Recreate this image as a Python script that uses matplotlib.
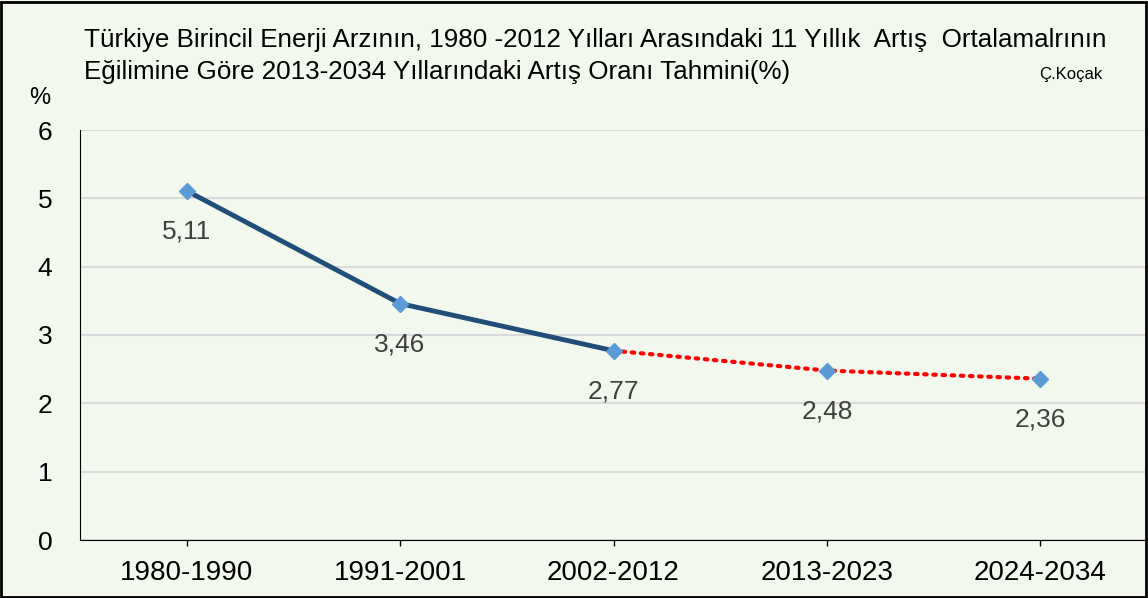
import matplotlib.pyplot as plt
from matplotlib.patches import Rectangle

periods = ["1980-1990", "1991-2001", "2002-2012", "2013-2023", "2024-2034"]
rates = [5.11, 3.46, 2.77, 2.48, 2.36]
labels = ["5,11", "3,46", "2,77", "2,48", "2,36"]

bg = "#F3F8EE"
plt.rcParams['font.family'] = ["Liberation Sans", "DejaVu Sans"]

fig = plt.figure(figsize=(11.48, 5.98), dpi=100, facecolor=bg)
ax = fig.add_axes([80 / 1148, 58 / 598, 1067 / 1148, 410 / 598], facecolor=bg)

x = list(range(len(periods)))
ax.plot(x[:3], rates[:3], color="#1F4E79", lw=3.5, zorder=3)
ax.plot(x[2:], rates[2:], color="#FF0000", lw=3, ls=(0, (0.6, 1.6)),
        dash_capstyle="round", zorder=3)
ax.plot(x, rates, ls="none", marker="D", ms=8, color="#5B9BD5", zorder=4)

for xi, yi, t in zip(x, rates, labels):
    ax.annotate(t, (xi, yi), xytext=(0, -21), textcoords="offset points",
                ha="center", va="top", fontsize=19, color="#404040")

ax.set_xlim(-0.5, 4.5)
ax.set_ylim(0, 6)
ax.set_yticks(range(7))
ax.set_xticks(x)
ax.set_xticklabels(periods, fontsize=20)
ax.tick_params(axis="y", length=0, labelsize=19, pad=20)
ax.tick_params(axis="x", length=4.5, width=1, pad=10, direction="out")
ax.grid(axis="y", color="#D9D9D9", lw=1.5)
ax.set_axisbelow(True)
for s in ["top", "right"]:
    ax.spines[s].set_visible(False)
ax.spines["left"].set_color("black")
ax.spines["bottom"].set_color("black")

fig.text(40 / 1148, 1 - 98 / 598, "%", fontsize=17, ha="center", va="center")
fig.text(84 / 1148, 1 - 40 / 598,
         "Türkiye Birincil Enerji Arzının, 1980 -2012 Yılları Arasındaki 11 Yıllık  Artış  Ortalamalrının",
         fontsize=18.7, ha="left", va="center")
fig.text(84 / 1148, 1 - 72 / 598,
         "Eğilimine Göre 2013-2034 Yıllarındaki Artış Oranı Tahmini(%)",
         fontsize=18.7, ha="left", va="center")
fig.text(1102 / 1148, 1 - 74 / 598, "Ç.Koçak", fontsize=12, ha="right",
         va="center")

fig.patches.append(Rectangle((0.001, 0.002), 0.997, 0.995, transform=fig.transFigure,
                             fill=False, edgecolor="black", lw=2))

fig.savefig("out.png", dpi=100, facecolor=bg)
